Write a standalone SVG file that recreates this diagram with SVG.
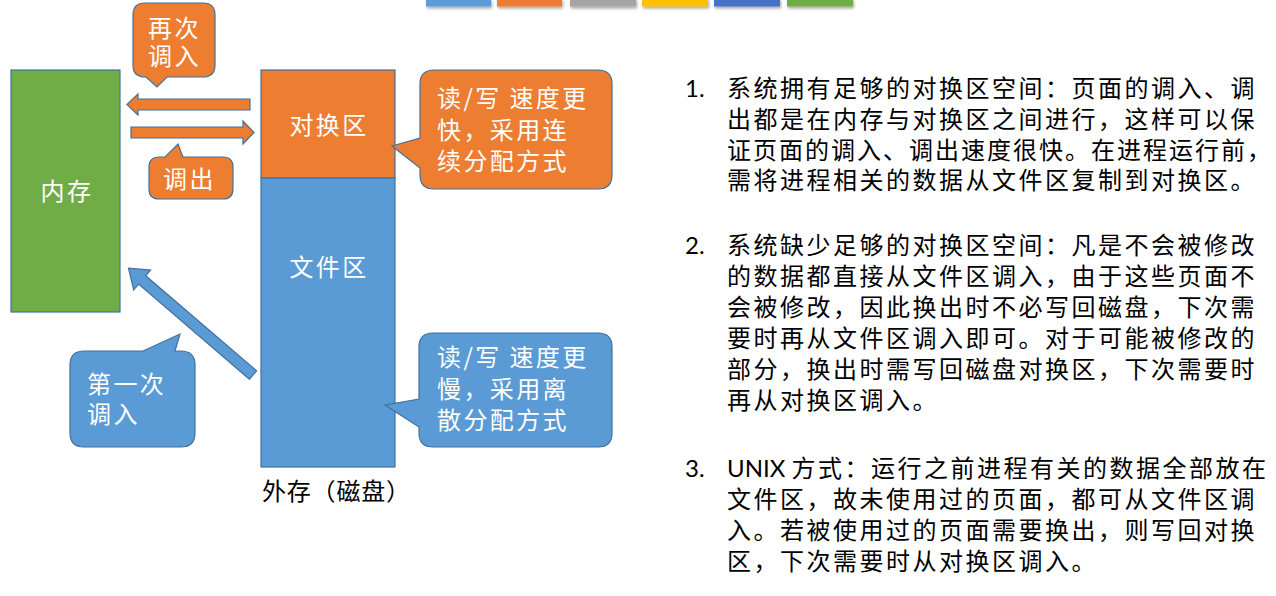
<svg xmlns="http://www.w3.org/2000/svg" width="1276" height="596" viewBox="0 0 1276 596">
<defs>
<style>
.shape{stroke:#41719C;stroke-width:1.2}
.org{fill:#ED7D31}
.blu{fill:#5B9BD5}
.grn{fill:#70AD47}
.wt{fill:#FFFFFF;font-family:"Noto Sans CJK SC","Noto Sans",sans-serif;font-size:24px;letter-spacing:2.4px}
.bk{fill:#000000;font-family:"Noto Sans CJK SC","Noto Sans",sans-serif;font-size:24px;letter-spacing:2.5px}
.num{fill:#000000;font-family:Lato,"Noto Sans",sans-serif;font-size:24px}
</style>
<filter id="sh" x="-10%" y="-50%" width="120%" height="250%">
<feDropShadow dx="1" dy="2" stdDeviation="1.5" flood-color="#000" flood-opacity="0.35"/>
</filter>
</defs>
<rect width="1276" height="596" fill="#FFFFFF"/>

<g id="topbar" filter="url(#sh)">
<rect x="426" y="-2" width="65" height="8.5" fill="#5B9BD5"/>
<rect x="497" y="-2" width="65" height="8.5" fill="#ED7D31"/>
<rect x="570" y="-2" width="66" height="8.5" fill="#A5A5A5"/>
<rect x="642" y="-2" width="66" height="8.5" fill="#FFC000"/>
<rect x="714" y="-2" width="66" height="8.5" fill="#4472C4"/>
<rect x="787" y="-2" width="66" height="8.5" fill="#70AD47"/>
</g>

<g id="memory">
<rect class="shape grn" x="11" y="70" width="109" height="242"/>
<text class="wt" x="67" y="200" text-anchor="middle">内存</text>
</g>

<g id="swap">
<rect class="shape org" x="261" y="70" width="134" height="108"/>
<text class="wt" x="329" y="134" text-anchor="middle">对换区</text>
</g>

<g id="file">
<rect class="shape blu" x="261" y="178" width="134" height="289"/>
<text class="wt" x="329" y="276" text-anchor="middle">文件区</text>
</g>

<g id="disk-label">
<text class="bk" x="262" y="500" style="letter-spacing:0.8px">外存（磁盘）</text>
</g>

<g id="connectors">
<polygon class="shape org" points="250,99 138,99 138,94 127,104.5 138,115 138,110 250,110"/>
<polygon class="shape org" points="131,127 243,127 243,121 254,132.5 243,144 243,138 131,138"/>
<polygon class="shape blu" transform="translate(253,375) rotate(220.6)" points="0,-5.5 146,-5.5 146,-13 164,0 146,13 146,5.5 0,5.5"/>
</g>

<g id="callout-swapin">
<path class="shape org" d="M145,3 H203 Q215,3 215,15 V65 Q215,77 203,77 H167 L157,87 L146,77 H145 Q133,77 133,65 V15 Q133,3 145,3 Z"/>
<text class="wt" x="148" y="37">再次</text>
<text class="wt" x="148" y="65">调入</text>
</g>

<g id="callout-swapout">
<path class="shape org" d="M159,157 H165 L178,144 L183,157 H223 Q233,157 233,167 V189 Q233,199 223,199 H159 Q149,199 149,189 V167 Q149,157 159,157 Z"/>
<text class="wt" x="163" y="188">调出</text>
</g>

<g id="callout-first">
<path class="shape blu" d="M84,351 H143 L180,334 L175,351 H181 Q195,351 195,365 V433 Q195,447 181,447 H84 Q70,447 70,433 V365 Q70,351 84,351 Z"/>
<text class="wt" x="87" y="393">第一次</text>
<text class="wt" x="87" y="423">调入</text>
</g>

<g id="callout-fast">
<path class="shape org" d="M434,70 H598 Q612,70 612,84 V175 Q612,189 598,189 H434 Q420,189 420,175 V168 L392,146 L420,138 V84 Q420,70 434,70 Z"/>
<text class="wt" x="437" y="107">读/写 速度更</text>
<text class="wt" x="437" y="139">快，采用连</text>
<text class="wt" x="437" y="170">续分配方式</text>
</g>

<g id="callout-slow">
<path class="shape blu" d="M433,333 H598 Q612,333 612,347 V433 Q612,447 598,447 H433 Q419,447 419,433 V427 L385,405 L419,399 V347 Q419,333 433,333 Z"/>
<text class="wt" x="437" y="366">读/写 速度更</text>
<text class="wt" x="437" y="398">慢，采用离</text>
<text class="wt" x="437" y="429">散分配方式</text>
</g>

<g id="item1">
<text class="num" x="685" y="97">1.</text>
<text class="bk" x="727" y="97">系统拥有足够的对换区空间：页面的调入、调</text>
<text class="bk" x="727" y="128">出都是在内存与对换区之间进行，这样可以保</text>
<text class="bk" x="727" y="159" style="letter-spacing:2px">证页面的调入、调出速度很快。在进程运行前，</text>
<text class="bk" x="727" y="189">需将进程相关的数据从文件区复制到对换区。</text>
</g>

<g id="item2">
<text class="num" x="685" y="254">2.</text>
<text class="bk" x="727" y="254">系统缺少足够的对换区空间：凡是不会被修改</text>
<text class="bk" x="727" y="285">的数据都直接从文件区调入，由于这些页面不</text>
<text class="bk" x="727" y="316">会被修改，因此换出时不必写回磁盘，下次需</text>
<text class="bk" x="727" y="347">要时再从文件区调入即可。对于可能被修改的</text>
<text class="bk" x="727" y="378">部分，换出时需写回磁盘对换区，下次需要时</text>
<text class="bk" x="727" y="409">再从对换区调入。</text>
</g>

<g id="item3">
<text class="num" x="685" y="477">3.</text>
<text class="bk" x="727" y="477"><tspan class="num" style="letter-spacing:0">UNIX </tspan>方式：运行之前进程有关的数据全部放在</text>
<text class="bk" x="727" y="508">文件区，故未使用过的页面，都可从文件区调</text>
<text class="bk" x="727" y="539">入。若被使用过的页面需要换出，则写回对换</text>
<text class="bk" x="727" y="570">区，下次需要时从对换区调入。</text>
</g>
</svg>
